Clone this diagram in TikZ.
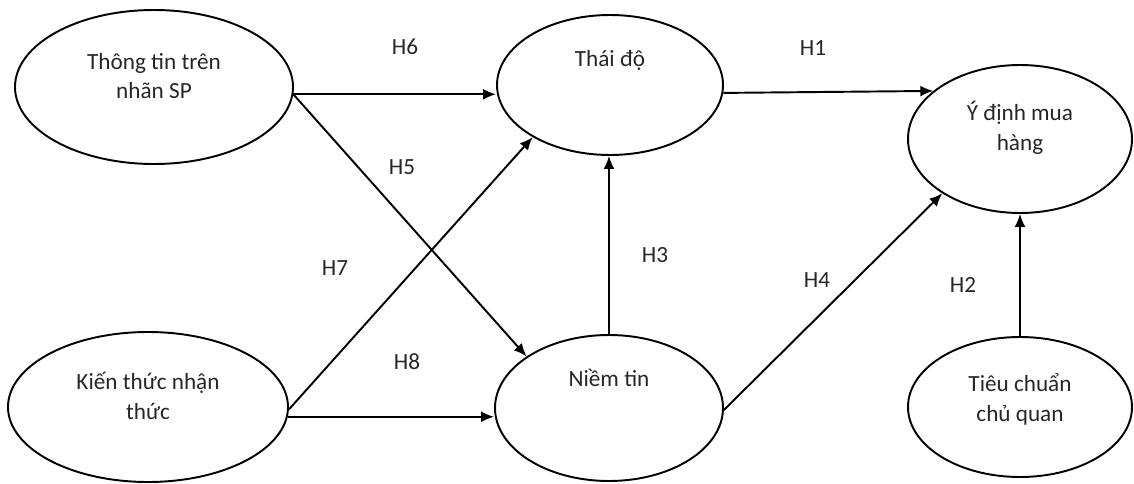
\documentclass[tikz,border=0pt]{standalone}
\usepackage{fontspec}
\setmainfont{Carlito}
\usetikzlibrary{shapes.geometric, arrows.meta}

\begin{document}
\begin{tikzpicture}[
    font=\fontsize{13.2}{17}\selectfont,
    oval/.style={draw, ellipse, line width=1.1pt, inner sep=0pt},
    txt/.style={align=center, inner sep=0pt, text=black!85},
    hyp/.style={inner sep=0pt, text=black!85},
    link/.style={-{Latex[length=2.6mm,width=2.2mm]}, line width=1.1pt}
]
\useasboundingbox (0,0) rectangle (22.68,9.66);

% Constructs
\node[oval, minimum width=5.56cm, minimum height=3.08cm] (tt) at (3.08,7.92) {};
\node[oval, minimum width=4.52cm, minimum height=2.8cm] (td) at (12.2,7.96) {};
\node[oval, minimum width=4.48cm, minimum height=2.96cm] (yd) at (20.4,6.88) {};
\node[oval, minimum width=5.6cm, minimum height=3.0cm] (kt) at (2.96,1.52) {};
\node[oval, minimum width=4.56cm, minimum height=2.92cm] (nt) at (12.18,1.5) {};
\node[oval, minimum width=4.48cm, minimum height=2.8cm] (tc) at (20.4,1.52) {};

\node[txt] (tt-t) at ([yshift=0.22cm]tt.center) {Thông tin trên\\nhãn SP};
\node[txt] (td-t) at ([yshift=0.5cm]td.center) {Thái độ};
\node[txt] (yd-t) at ([yshift=0.23cm]yd.center) {Ý định mua\\hàng};
\node[txt] (kt-t) at ([yshift=0.22cm]kt.center) {Kiến thức nhận\\thức};
\node[txt] (nt-t) at ([yshift=0.6cm]nt.center) {Niềm tin};
\node[txt] (tc-t) at ([yshift=0.15cm]tc.center) {Tiêu chuẩn\\chủ quan};

% Paths
\draw[link] (tt.-3) -- (tt.-3 -| td.west);
\draw[link] (tt.-3) -- (nt.148);
\draw[link] (kt.-1) -- (td.214);
\draw[link] (kt.-4) -- (kt.-4 -| nt.west);
\draw[link] (nt.north) -- (nt.north |- td.south);
\draw[link] (td.-4) -- (yd.151);
\draw[link] (nt.-1) -- (yd.215);
\draw[link] (tc.north) -- (yd.south);

% Hypotheses
\node[hyp] (h6) at (8.1,8.72) {H6};
\node[hyp] (h5) at (8.04,6.32) {H5};
\node[hyp] (h1) at (16.26,8.7) {H1};
\node[hyp] (h7) at (6.7,4.3) {H7};
\node[hyp] (h3) at (13.1,4.56) {H3};
\node[hyp] (h4) at (16.34,4.06) {H4};
\node[hyp] (h2) at (19.26,3.96) {H2};
\node[hyp] (h8) at (8.14,2.42) {H8};
\end{tikzpicture}
\end{document}
